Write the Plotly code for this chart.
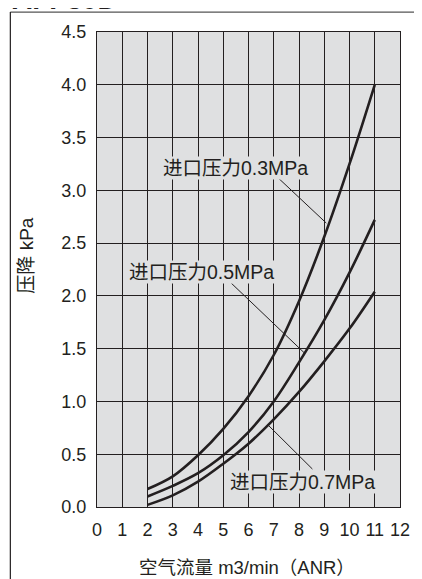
import plotly.graph_objects as go

# flow (m3/min ANR) vs pressure drop (kPa)
flow = [2, 3, 4, 5, 6, 7, 8, 9, 10, 11]
drop_03 = [0.17, 0.29, 0.49, 0.74, 1.05, 1.44, 1.95, 2.56, 3.25, 4.00]
drop_05 = [0.10, 0.20, 0.32, 0.49, 0.71, 1.00, 1.37, 1.77, 2.22, 2.72]
drop_07 = [0.02, 0.11, 0.24, 0.41, 0.60, 0.83, 1.09, 1.38, 1.69, 2.04]

curve_labels = ["进口压力0.3MPa", "进口压力0.5MPa", "进口压力0.7MPa"]
# label centre and leader line (from, to) in data units
label_pos = [(5.5, 3.21), (4.13, 2.23), (8.14, 0.24)]
leader_from = [(7.21, 3.11), (5.32, 2.12), (6.76, 0.78)]
leader_to = [(9.08, 2.69), (8.21, 1.46), (8.53, 0.36)]

x_ticks = list(range(0, 13))
y_ticks = [0, 0.5, 1.0, 1.5, 2.0, 2.5, 3.0, 3.5, 4.0, 4.5]

INK = "#231f20"
PLOT_BG = "#dfe0e1"
FONT = "Liberation Sans, Arial, Noto Sans CJK SC, sans-serif"

fig = go.Figure()
for ys in (drop_03, drop_05, drop_07):
    fig.add_trace(go.Scatter(x=flow, y=ys, mode="lines",
                             line=dict(color=INK, width=2.6, shape="spline"),
                             showlegend=False, hoverinfo="skip"))

# leader lines
for (x0, y0), (x1, y1) in zip(leader_from, leader_to):
    fig.add_shape(type="line", x0=x0, y0=y0, x1=x1, y1=y1,
                  line=dict(color=INK, width=1))

for txt, (lx, ly) in zip(curve_labels, label_pos):
    fig.add_annotation(x=lx, y=ly, text=txt, showarrow=False,
                       font=dict(size=19.5, color=INK, family=FONT),
                       bgcolor=PLOT_BG, borderpad=0)

# outer frame (only left and top edges fall inside the picture)
fig.add_shape(type="line", xref="paper", yref="paper",
              x0=-0.286, y0=1.042, x1=1.06, y1=1.042,
              line=dict(color="#555", width=1.2))
fig.add_shape(type="line", xref="paper", yref="paper",
              x0=-0.286, y0=1.042, x1=-0.286, y1=-0.2,
              line=dict(color=INK, width=1.2))

# model title, cut off by the top edge of the picture
fig.add_annotation(xref="paper", yref="paper", x=-0.288, y=1.031,
                   xanchor="left", yanchor="bottom", text="<b>AFF30D</b>",
                   showarrow=False, font=dict(size=28, color=INK, family=FONT))

# axis titles
fig.add_annotation(xref="paper", yref="paper", x=-0.233, y=0.53,
                   xanchor="center", yanchor="middle",
                   text="压降 kPa", textangle=-90, showarrow=False,
                   font=dict(size=19, color=INK, family=FONT))
fig.add_annotation(xref="paper", yref="paper", x=0.495, y=-0.128,
                   xanchor="center", yanchor="middle",
                   text="空气流量 m3/min（ANR）", showarrow=False,
                   font=dict(size=18.5, color=INK, family=FONT))

fig.update_xaxes(range=[0, 12], tickvals=x_ticks, ticktext=[str(t) for t in x_ticks],
                 showgrid=True, gridcolor=INK, gridwidth=1.3,
                 showline=True, linecolor=INK, linewidth=1.3, mirror=True,
                 zeroline=False, ticks="", ticklabelstandoff=6,
                 tickfont=dict(size=18, color=INK, family=FONT))
fig.update_yaxes(range=[0, 4.5], tickvals=y_ticks, tickformat=".1f",
                 showgrid=True, gridcolor=INK, gridwidth=1.3,
                 showline=True, linecolor=INK, linewidth=1.3, mirror=True,
                 zeroline=False, ticks="", ticklabelstandoff=6,
                 tickfont=dict(size=18, color=INK, family=FONT))

# the page adds an 8px body margin, so the figure is 8px smaller each way
fig.update_layout(
    width=414, height=571,
    margin=dict(l=89, r=16, t=24, b=72),
    plot_bgcolor=PLOT_BG, paper_bgcolor="white",
    font=dict(family=FONT, color=INK),
)

fig.write_html("out.html")
